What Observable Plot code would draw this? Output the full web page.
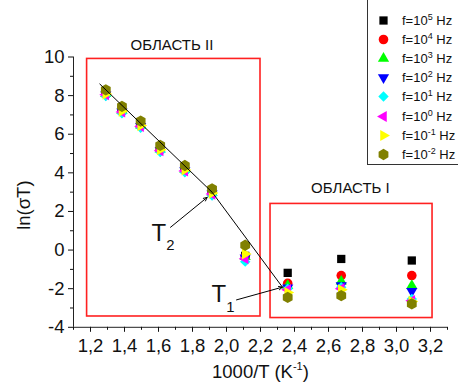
<!DOCTYPE html>
<html><head><meta charset="utf-8">
<script src="https://cdn.jsdelivr.net/npm/d3@7"></script>
<script src="https://cdn.jsdelivr.net/npm/@observablehq/plot@0.6"></script>
<style>
body{margin:0;background:#fff;font-family:"Liberation Sans",Arial,sans-serif;}
#wrap{position:relative;width:458px;height:390px;overflow:hidden;background:#fff;}
#chart{position:absolute;left:0;top:0;}
#legend{position:absolute;left:367px;top:-6px;width:110px;height:171px;border:1px solid #333;background:#fff;box-sizing:border-box;}
.row{position:absolute;left:376px;height:19px;display:flex;align-items:center;font-size:13px;color:#111;white-space:nowrap;}
.row sup{font-size:9px;vertical-align:5px;line-height:0;}
</style></head><body><div id="wrap"><div id="chart"></div><div id="legend"></div></div>
<script>
// ---- data ----
const invT = [1.29, 1.385, 1.495, 1.61, 1.755, 1.915, 2.11, 2.36, 2.675, 3.09];
const freqExp = ["5", "4", "3", "2", "1", "0", "-1", "-2"];
const seriesColors = ["#000000", "#ff0000", "#00ff00", "#0000ff", "#00ffff", "#ff00ff", "#ffff00", "#808000"];
const seriesSymbols = ["square", "circle", "triangleUp", "triangleDown", "diamond", "triangleLeft", "triangleRight", "hexagon"];
const f1e5  = [8.12, 7.24, 6.49, 5.24, 4.19, 2.99, -0.30, -1.18, -0.46, -0.54];
const f1e4  = [8.10, 7.22, 6.47, 5.22, 4.17, 2.97, -0.35, -1.72, -1.32, -1.32];
const f1e3  = [8.10, 7.22, 6.47, 5.22, 4.17, 2.97, -0.35, -1.85, -1.62, -1.84];
const f1e2  = [8.05, 7.17, 6.42, 5.17, 4.12, 2.92, -0.40, -1.95, -1.84, -2.13];
const f1e1  = [7.98, 7.08, 6.33, 5.08, 4.03, 2.83, -0.60, -2.00, -1.93, -2.53];
const f1e0  = [8.05, 7.15, 6.40, 5.15, 4.10, 2.90, -0.45, -2.05, -2.00, -2.62];
const f1em1 = [8.08, 7.20, 6.45, 5.20, 4.15, 2.95, -0.20, -2.20, -2.06, -2.66];
const f1em2 = [8.30, 7.44, 6.68, 5.42, 4.38, 3.17, 0.25, -2.45, -2.36, -2.79];
const seriesValues = [f1e5, f1e4, f1e3, f1e2, f1e1, f1e0, f1em1, f1em2];

const fitX = [1.2547, 1.916, 2.329];
const fitY = [8.60, 2.99, -1.92];

const arrowX1 = [1.6706, 2.059], arrowY1 = [1.18, -2.58];
const arrowX2 = [1.8865, 2.329], arrowY2 = [2.73, -1.92];

const regionX1 = [1.18, 2.259], regionX2 = [2.2, 3.212];
const regionY1 = [-3.44, -3.52], regionY2 = [9.90, 2.39];
const regionNames = ["ОБЛАСТЬ II", "ОБЛАСТЬ I"];
const regionLabelX = [1.679, 2.729], regionLabelY = [10.63, 3.18];

const tNames = ["T_{2}", "T_{1}"];
const tLabelX = [1.5588, 1.9118], tLabelY = [0.88, -2.30];

const xMajor = [1.2, 1.4, 1.6, 1.8, 2.0, 2.2, 2.4, 2.6, 2.8, 3.0, 3.2];
const xMinor = [1.1, 1.3, 1.5, 1.7, 1.9, 2.1, 2.3, 2.5, 2.7, 2.9, 3.1, 3.3];
const yMajor = [-4, -2, 0, 2, 4, 6, 8, 10];
const yMinor = [-3, -1, 1, 3, 5, 7, 9];

// ---- symbols ----
const s3 = Math.sqrt(3);
function triangle(map, k) {
  return {draw(ctx, size) {
    const y = -Math.sqrt(size * k / (s3 * 3));
    const pts = [[0, 2 * y], [-s3 * y, -y], [s3 * y, -y]].map(map);
    ctx.moveTo(...pts[0]); ctx.lineTo(...pts[1]); ctx.lineTo(...pts[2]); ctx.closePath();
  }};
}
const symbolDefs = {
  square: {draw(ctx, size) { const w = Math.sqrt(size) * 0.97, h = w / 2; ctx.rect(-h, -h, w, w); }},
  circle: {draw(ctx, size) { const r = Math.sqrt(size / Math.PI); ctx.moveTo(r, 0); ctx.arc(0, 0, r, 0, 2 * Math.PI); }},
  triangleUp: triangle(([x, y]) => [x, y], 0.75),
  triangleDown: triangle(([x, y]) => [x, -y], 0.75),
  triangleLeft: triangle(([x, y]) => [y, x], 0.75),
  triangleRight: triangle(([x, y]) => [-y, x], 0.75),
  diamond: {draw(ctx, size) { const d = Math.sqrt(size * 0.75 / 2); ctx.moveTo(0, -d); ctx.lineTo(d, 0); ctx.lineTo(0, d); ctx.lineTo(-d, 0); ctx.closePath(); }},
  hexagon: {draw(ctx, size) { const R = Math.sqrt(2 * size * 1.15 / (3 * s3)); for (let i = 0; i < 6; i++) { const a = Math.PI / 3 * i - Math.PI / 2; const px = R * Math.cos(a), py = R * Math.sin(a); i ? ctx.lineTo(px, py) : ctx.moveTo(px, py); } ctx.closePath(); }}
};

// ---- tables ----
const regions = regionX1.map((d, i) => ({x1: d, x2: regionX2[i], y1: regionY1[i], y2: regionY2[i]}));
const fit = fitX.map((d, i) => ({x: d, y: fitY[i]}));
const arrows = arrowX1.map((d, i) => ({x1: d, y1: arrowY1[i], x2: arrowX2[i], y2: arrowY2[i]}));
const regionLabels = regionNames.map((d, i) => ({t: d, x: regionLabelX[i], y: regionLabelY[i]}));
const tLabels = tNames.map((d, i) => ({t: d, x: tLabelX[i], y: tLabelY[i]}));
const R = 4.8;

const dotMarks = seriesValues.map((vals, s) =>
  Plot.dot(vals.map((v, i) => ({x: invT[i], y: v})), {
    x: "x", y: "y", r: R, fill: seriesColors[s], stroke: "none",
    symbol: symbolDefs[seriesSymbols[s]]
  })
);

const fmtComma = d => d.toFixed(1).replace(".", ",");

const chart = Plot.plot({
  width: 458, height: 390,
  marginLeft: 73, marginRight: 11, marginTop: 56.5, marginBottom: 63.2,
  x: {domain: [1.1, 3.3], label: null},
  y: {domain: [-4, 10], label: null},
  style: {fontFamily: '"Liberation Sans", Arial, sans-serif', fontSize: "18px", color: "#111", background: "white", overflow: "visible"},
  marks: [
    Plot.rect(regions, {x1: "x1", x2: "x2", y1: "y1", y2: "y2", fill: "none", stroke: "#ff2020", strokeWidth: 1.6}),
    ...dotMarks,
    Plot.line(fit, {x: "x", y: "y", stroke: "black", strokeWidth: 1}),
    Plot.arrow(arrows, {x1: "x1", y1: "y1", x2: "x2", y2: "y2", stroke: "black", strokeWidth: 1, headLength: 6, headAngle: 50}),
    Plot.text(regionLabels, {x: "x", y: "y", text: "t", fontSize: 15, fill: "#111"}),
    Plot.text(tLabels, {x: "x", y: "y", text: "t", fontSize: 24, textAnchor: "start", fill: "#111"}),
    Plot.ruleX([1.1], {stroke: "#222"}),
    Plot.ruleY([-4], {stroke: "#222"}),
    Plot.axisY({ticks: yMajor, tickSize: 5, tickPadding: 4, tickFormat: d => String(d), fontSize: 18.5, label: null}),
    Plot.axisY({ticks: yMinor, tickSize: 3, tickFormat: () => "", label: null}),
    Plot.axisX({ticks: xMajor, tickSize: 5, tickPadding: 7, tickFormat: fmtComma, fontSize: 18.5, label: null}),
    Plot.axisX({ticks: xMinor, tickSize: 3, tickFormat: () => "", label: null}),
    Plot.text(["ln(σT)"], {frameAnchor: "left", textAnchor: "middle", lineAnchor: "middle", rotate: -90, dx: -49, dy: 13, fontSize: 18.5, fill: "#111"}),
    Plot.text(["1000/T (K^{-1})"], {frameAnchor: "bottom", textAnchor: "middle", lineAnchor: "middle", dy: 45, fontSize: 18.5, fill: "#111"})
  ]
});

// rich text: ^{..} superscript, _{..} subscript
function richText(svg) {
  svg.querySelectorAll("text").forEach(t => {
    const s = t.textContent;
    if (!/[\^_]\{/.test(s)) return;
    const parts = s.split(/([\^_]\{[^}]*\})/).filter(p => p);
    while (t.firstChild) t.removeChild(t.firstChild);
    let pending = 0;
    parts.forEach(p => {
      const ts = document.createElementNS("http://www.w3.org/2000/svg", "tspan");
      if (p[0] === "^" || p[0] === "_") {
        const sup = p[0] === "^";
        ts.textContent = p.slice(2, -1);
        ts.setAttribute("font-size", sup ? "0.6em" : "0.62em");
        const shift = sup ? -0.42 : 0.39;
        ts.setAttribute("dy", (shift / (sup ? 0.6 : 0.62)) + "em");
        pending = -shift;
      } else {
        ts.textContent = p;
        if (pending) ts.setAttribute("dy", pending + "em");
        pending = 0;
      }
      t.appendChild(ts);
    });
  });
}
richText(chart);
document.getElementById("chart").appendChild(chart);

// legend
const wrap = document.getElementById("wrap");
seriesColors.forEach((c, i) => {
  const cy = 20 + 19.2 * i;
  const row = document.createElement("div");
  row.className = "row";
  row.style.top = (cy - 9.5) + "px";
  const svg = d3.create("svg").attr("width", 26).attr("height", 19);
  svg.append("path")
    .attr("transform", "translate(7.5,9.5)")
    .attr("d", d3.symbol().type(symbolDefs[seriesSymbols[i]]).size(Math.PI * R * R)())
    .attr("fill", c);
  row.appendChild(svg.node());
  const span = document.createElement("span");
  span.innerHTML = "f=10<sup>" + freqExp[i] + "</sup> Hz";
  row.appendChild(span);
  wrap.appendChild(row);
});
</script></body></html>
